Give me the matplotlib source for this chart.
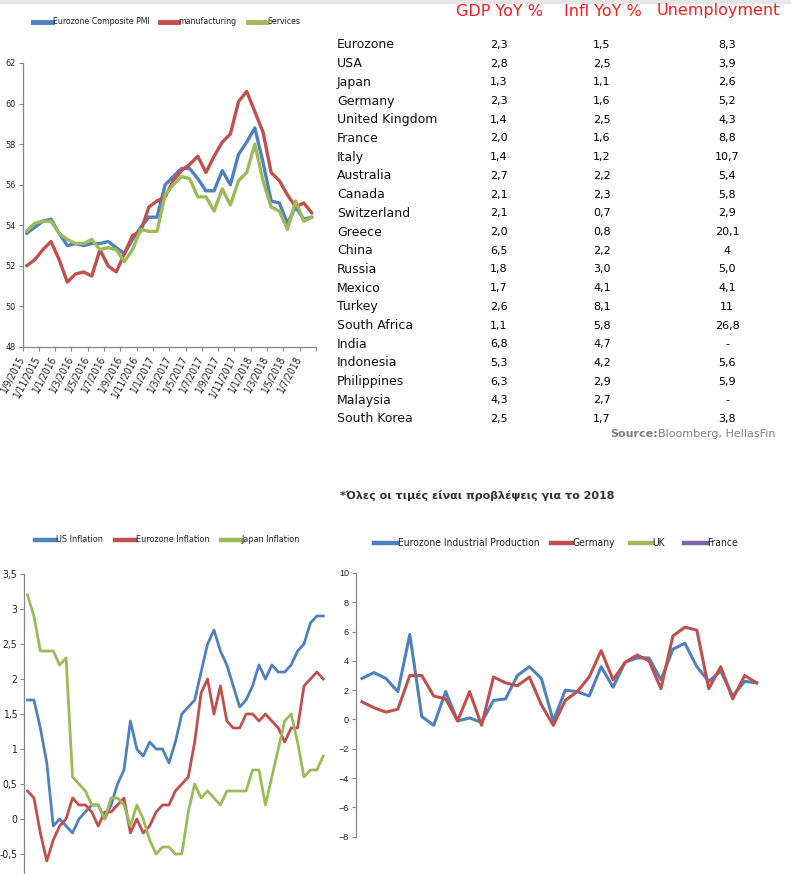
import matplotlib
matplotlib.use("Agg")
import matplotlib.pyplot as plt
from matplotlib.lines import Line2D
from matplotlib.ticker import FuncFormatter

W, H = 791, 874
BLUE, RED, GREEN, PURPLE = "#4F81BD", "#C0504D", "#9BBB59", "#8064A2"
AXIS_GREY = "#868686"
NARROW = {"family": "DejaVu Sans", "stretch": "condensed"}

# =============================================================================
# Data
# =============================================================================

# PMI, monthly Sep 2015 - Aug 2018
pmi_tick_labels = ["1/9/2015", "1/11/2015", "1/1/2016", "1/3/2016", "1/5/2016",
                   "1/7/2016", "1/9/2016", "1/11/2016", "1/1/2017", "1/3/2017",
                   "1/5/2017", "1/7/2017", "1/9/2017", "1/11/2017", "1/1/2018",
                   "1/3/2018", "1/5/2018", "1/7/2018"]
pmi_composite = [53.6, 53.9, 54.2, 54.3, 53.6, 53.0, 53.1, 53.0, 53.1, 53.1, 53.2, 52.9,
                 52.6, 53.3, 53.9, 54.4, 54.4, 56.0, 56.4, 56.8, 56.8, 56.3, 55.7, 55.7,
                 56.7, 56.0, 57.5, 58.1, 58.8, 57.1, 55.2, 55.1, 54.1, 54.9, 54.3, 54.4]
pmi_manufacturing = [52.0, 52.3, 52.8, 53.2, 52.3, 51.2, 51.6, 51.7, 51.5, 52.8, 52.0, 51.7,
                     52.6, 53.5, 53.7, 54.9, 55.2, 55.4, 56.2, 56.7, 57.0, 57.4, 56.6, 57.4,
                     58.1, 58.5, 60.1, 60.6, 59.6, 58.6, 56.6, 56.2, 55.5, 54.9, 55.1, 54.6]
pmi_services = [53.7, 54.1, 54.2, 54.2, 53.6, 53.3, 53.1, 53.1, 53.3, 52.8, 52.9, 52.8,
                52.2, 52.8, 53.8, 53.7, 53.7, 55.5, 56.0, 56.4, 56.3, 55.4, 55.4, 54.7,
                55.8, 55.0, 56.2, 56.6, 58.0, 56.2, 54.9, 54.7, 53.8, 55.2, 54.2, 54.4]

# Forecast table
countries = ["Eurozone", "USA", "Japan", "Germany", "United Kingdom", "France", "Italy",
             "Australia", "Canada", "Switzerland", "Greece", "China", "Russia", "Mexico",
             "Turkey", "South Africa", "India", "Indonesia", "Philippines", "Malaysia",
             "South Korea"]
gdp_yoy = ["2,3", "2,8", "1,3", "2,3", "1,4", "2,0", "1,4", "2,7", "2,1", "2,1", "2,0",
           "6,5", "1,8", "1,7", "2,6", "1,1", "6,8", "5,3", "6,3", "4,3", "2,5"]
infl_yoy = ["1,5", "2,5", "1,1", "1,6", "2,5", "1,6", "1,2", "2,2", "2,3", "0,7", "0,8",
            "2,2", "3,0", "4,1", "8,1", "5,8", "4,7", "4,2", "2,9", "2,7", "1,7"]
unemployment = ["8,3", "3,9", "2,6", "5,2", "4,3", "8,8", "10,7", "5,4", "5,8", "2,9", "20,1",
                "4", "5,0", "4,1", "11", "26,8", "-", "5,6", "5,9", "-", "3,8"]
table_headers = ["GDP YoY %", "Infl YoY %", "Unemployment"]

# Inflation, monthly (47 points)
us_inflation = [1.7, 1.7, 1.3, 0.8, -0.1, 0.0, -0.1, -0.2, 0.0, 0.1, 0.2, 0.2, 0.0, 0.2,
                0.5, 0.7, 1.4, 1.0, 0.9, 1.1, 1.0, 1.0, 0.8, 1.1, 1.5, 1.6, 1.7, 2.1,
                2.5, 2.7, 2.4, 2.2, 1.9, 1.6, 1.7, 1.9, 2.2, 2.0, 2.2, 2.1, 2.1, 2.2,
                2.4, 2.5, 2.8, 2.9, 2.9]
ez_inflation = [0.4, 0.3, -0.2, -0.6, -0.3, -0.1, 0.0, 0.3, 0.2, 0.2, 0.1, -0.1, 0.1, 0.1,
                0.2, 0.3, -0.2, 0.0, -0.2, -0.1, 0.1, 0.2, 0.2, 0.4, 0.5, 0.6, 1.1, 1.8,
                2.0, 1.5, 1.9, 1.4, 1.3, 1.3, 1.5, 1.5, 1.4, 1.5, 1.4, 1.3, 1.1, 1.3,
                1.3, 1.9, 2.0, 2.1, 2.0]
jp_inflation = [3.2, 2.9, 2.4, 2.4, 2.4, 2.2, 2.3, 0.6, 0.5, 0.4, 0.2, 0.2, 0.0, 0.3,
                0.3, 0.2, -0.1, 0.2, 0.0, -0.3, -0.5, -0.4, -0.4, -0.5, -0.5, 0.1, 0.5, 0.3,
                0.4, 0.3, 0.2, 0.4, 0.4, 0.4, 0.4, 0.7, 0.7, 0.2, 0.6, 1.0, 1.4, 1.5,
                1.1, 0.6, 0.7, 0.7, 0.9]

# Industrial production YoY (34 points); UK and France have no data in the chart
ez_industrial = [2.8, 3.2, 2.8, 1.9, 5.8, 0.2, -0.4, 1.9, -0.1, 0.1, -0.2, 1.3, 1.4, 3.0,
                 3.6, 2.8, -0.1, 2.0, 1.9, 1.6, 3.6, 2.2, 3.9, 4.2, 4.2, 2.7, 4.8, 5.2,
                 3.6, 2.6, 3.3, 1.6, 2.6, 2.5]
de_industrial = [1.2, 0.8, 0.5, 0.7, 3.0, 3.0, 1.6, 1.4, -0.1, 1.9, -0.4, 2.9, 2.5, 2.3,
                 2.9, 1.0, -0.4, 1.3, 1.9, 2.9, 4.7, 2.7, 3.9, 4.4, 4.0, 2.1, 5.7, 6.3,
                 6.1, 2.1, 3.6, 1.4, 3.0, 2.5]


def px_axes(fig, left, top, right, bottom):
    """Axes placeret i pixel-koordinater (fra øverste venstre hjørne)."""
    return fig.add_axes([left / W, 1 - bottom / H, (right - left) / W, (bottom - top) / H])


def style_axis(ax, tick_size, font=NARROW):
    for side in ["top", "right"]:
        ax.spines[side].set_visible(False)
    for side in ["left", "bottom"]:
        ax.spines[side].set_color(AXIS_GREY)
        ax.spines[side].set_linewidth(0.9)
    ax.tick_params(axis="both", which="both", color=AXIS_GREY, labelcolor="#222222",
                   length=3, width=0.8, direction="out", pad=2)
    for lab in ax.get_yticklabels():
        lab.set_fontproperties({**font, "size": tick_size})


def draw_legend(fig, entries, y, size, lw=3.5):
    """Excel-agtig legend: (farve, linje-start px, linje-slut px, tekst)."""
    for color, x0, x1, label in entries:
        fig.add_artist(Line2D([x0 / W, x1 / W], [1 - y / H, 1 - y / H], color=color, lw=lw,
                              transform=fig.transFigure))
        fig.text((x1 + 0.5) / W, 1 - y / H, label, ha="left", va="center", color="#222222",
                 fontproperties={**NARROW, "size": size})


fig = plt.figure(figsize=(W / 100, H / 100), dpi=100)
fig.patches.append(plt.Rectangle((0, 1 - 3 / H), 1, 3 / H, transform=fig.transFigure,
                                 color="#e6e6e6", zorder=0))

# =============================================================================
# PMI chart
# =============================================================================
ax = px_axes(fig, 22.5, 63, 316, 347)
x = range(len(pmi_composite))
ax.plot(x, pmi_composite, color=BLUE, lw=2.4, solid_capstyle="round")
ax.plot(x, pmi_manufacturing, color=RED, lw=2.4, solid_capstyle="round")
ax.plot(x, pmi_services, color=GREEN, lw=2.4, solid_capstyle="round")
ax.set_xlim(-0.5, len(pmi_composite) - 0.5)
ax.set_ylim(48, 62)
ax.set_yticks(range(48, 63, 2))
ax.set_xticks([i - 0.5 for i in range(0, len(pmi_composite) + 1, 2)], minor=True)
ax.set_xticks(range(0, len(pmi_composite), 2))
ax.set_xticklabels(pmi_tick_labels, rotation=62, ha="right", va="top",
                   fontproperties={**NARROW, "size": 7.2})
style_axis(ax, 6.5)
ax.tick_params(axis="x", which="major", length=0, pad=5)
draw_legend(fig, [(BLUE, 33, 52, "Eurozone Composite PMI"),
                  (RED, 160, 178, "manufacturing"),
                  (GREEN, 248, 267, "Services")], y=22, size=6.3)

# =============================================================================
# Table
# =============================================================================
header_x = [500, 603, 718]
col_x = [499, 602, 727]
for hx, head in zip(header_x, table_headers):
    fig.text(hx / W, 1 - 11 / H, head, ha="center", va="center", fontsize=11.5,
             color="#ff1a1a", family="DejaVu Sans")
for r, name in enumerate(countries):
    y = 1 - (45 + r * 18.7) / H
    fig.text(337 / W, y, name, ha="left", va="center", fontsize=9, color="#111111")
    for cx, vals in zip(col_x, [gdp_yoy, infl_yoy, unemployment]):
        fig.text(cx / W, y, vals[r], ha="center", va="center", fontsize=8, color="#000000")
fig.text(775 / W, 1 - 434 / H, "Bloomberg, HellasFin", ha="right", va="center",
         fontsize=8, color="#7f7f7f")
fig.text(658 / W, 1 - 434 / H, "Source:", ha="right", va="center",
         fontsize=8, color="#7f7f7f", fontweight="bold")
fig.text(340 / W, 1 - 496 / H, "*Όλες οι τιμές είναι προβλέψεις για το 2018", ha="left",
         va="center", fontsize=8, color="#333333", fontweight="bold")

# =============================================================================
# Inflation chart
# =============================================================================
ax = px_axes(fig, 24.3, 574, 326.5, 889)
x = range(len(us_inflation))
ax.plot(x, us_inflation, color=BLUE, lw=2.0)
ax.plot(x, ez_inflation, color=RED, lw=2.0)
ax.plot(x, jp_inflation, color=GREEN, lw=2.0)
ax.set_xlim(-0.5, len(us_inflation) - 0.5)
ax.set_ylim(-1, 3.5)
ax.set_yticks([-0.5, 0, 0.5, 1, 1.5, 2, 2.5, 3, 3.5])
ax.yaxis.set_major_formatter(FuncFormatter(lambda v, _: f"{v:g}".replace(".", ",")))
ax.set_xticks([])
ax.spines["bottom"].set_visible(False)
style_axis(ax, 7.5)
draw_legend(fig, [(BLUE, 35, 56, "US Inflation"),
                  (RED, 115, 135, "Eurozone Inflation"),
                  (GREEN, 221, 241, "Japan Inflation")], y=540, size=6.5, lw=3.2)

# =============================================================================
# Industrial production chart
# =============================================================================
ax = px_axes(fig, 356, 573, 762.6, 836.6)
x = range(len(ez_industrial))
ax.plot(x, ez_industrial, color=BLUE, lw=2.2)
ax.plot(x, de_industrial, color=RED, lw=2.2)
ax.set_xlim(-0.5, len(ez_industrial) - 0.5)
ax.set_ylim(-8, 10)
ax.set_yticks(range(-8, 11, 2))
ax.set_xticks([])
ax.spines["bottom"].set_visible(False)
style_axis(ax, 6.5, font={"family": "Liberation Sans"})
draw_legend(fig, [(BLUE, 374, 397, "Eurozone Industrial Production"),
                  (RED, 551, 572, "Germany"),
                  (GREEN, 630, 652, "UK"),
                  (PURPLE, 684, 707, "France")], y=543, size=7.4, lw=3.2)

fig.savefig("out.png", dpi=100)
